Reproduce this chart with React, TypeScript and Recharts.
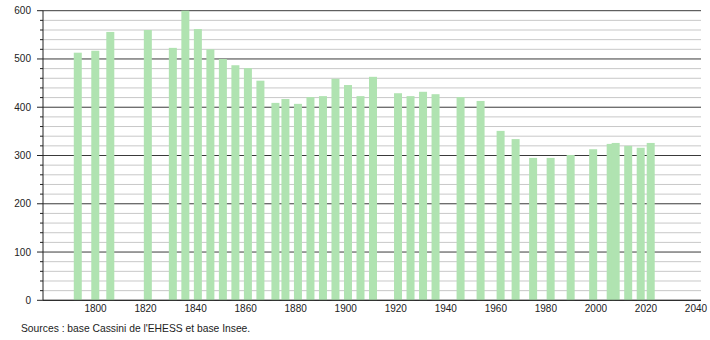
import React from 'react';
import { BarChart, Bar, XAxis, YAxis, CartesianGrid } from 'recharts';

const years = [
  1793, 1800, 1806, 1821, 1831, 1836, 1841, 1846, 1851, 1856,
  1861, 1866, 1872, 1876, 1881, 1886, 1891, 1896, 1901, 1906,
  1911, 1921, 1926, 1931, 1936, 1946, 1954, 1962, 1968, 1975,
  1982, 1990, 1999, 2006, 2008, 2013, 2018, 2022,
];
const population = [
  513, 517, 556, 560, 523, 600, 562, 520, 500, 487,
  481, 455, 409, 417, 407, 421, 423, 459, 446, 423,
  463, 429, 423, 432, 427, 421, 413, 351, 334, 295,
  295, 301, 313, 324, 326, 320, 316, 326,
];
const xTicks = [1800, 1820, 1840, 1860, 1880, 1900, 1920, 1940, 1960, 1980, 2000, 2020, 2040];
const majorTicks = [0, 100, 200, 300, 400, 500, 600];
const minorTicks = [
  20, 40, 60, 80, 120, 140, 160, 180, 220, 240, 260, 280,
  320, 340, 360, 380, 420, 440, 460, 480, 520, 540, 560, 580,
];
const yTicks = [...majorTicks, ...minorTicks].sort((a, b) => a - b);
const sourceText = "Sources : base Cassini de l'EHESS et base Insee.";

const data = years.map((year, i) => ({ year, population: population[i] }));

const FONT = '"Liberation Sans", Arial, sans-serif';

const YTick = (props: any) => {
  const { x, y, payload } = props;
  const v = payload.value;
  const major = majorTicks.includes(v);
  return (
    <g>
      <line x1={x - (major ? 6 : 3)} x2={x} y1={y} y2={y} stroke="#222" strokeWidth={1} />
      {major && (
        <text x={x - 12} y={y} dy="0.35em" textAnchor="end" fontSize={10} fill="#222" fontFamily={FONT}>
          {v}
        </text>
      )}
    </g>
  );
};

const BarShape = (props: any) => {
  const { x, y, width, height, fill } = props;
  if (height == null || isNaN(height)) return null;
  const cx = x + width / 2;
  return <rect x={cx - 4} y={y} width={8} height={height} fill={fill} />;
};

export default function App() {
  return (
    <div style={{ position: 'absolute', left: 0, top: 0, width: 710, height: 340, background: '#fff' }}>
      <BarChart
        width={710}
        height={340}
        data={data}
        margin={{ top: 10.7, right: 9, bottom: 19.7, left: 0 }}
      >
        <CartesianGrid vertical={false} horizontalValues={minorTicks} stroke="#c8c8c8" strokeWidth={1} />
        <CartesianGrid vertical={false} horizontalValues={majorTicks} stroke="#3a3a3a" strokeWidth={1} />
        <XAxis
          dataKey="year"
          type="number"
          domain={[1779, 2042]}
          ticks={xTicks}
          allowDataOverflow
          tickLine={false}
          tickSize={0}
          tickMargin={5}
          height={20}
          axisLine={{ stroke: '#222' }}
          tick={{ fontSize: 10, fill: '#222', fontFamily: FONT }}
          interval={0}
        />
        <YAxis
          type="number"
          domain={[0, 600]}
          ticks={yTicks}
          width={43}
          tickLine={false}
          tickSize={0}
          tickMargin={0}
          axisLine={{ stroke: '#222' }}
          tick={<YTick />}
          interval={0}
        />
        <Bar dataKey="population" fill="#b0e3b1" barSize={8} shape={<BarShape />} isAnimationActive={false} />
      </BarChart>
      <div
        style={{
          position: 'absolute',
          left: 21,
          top: 323,
          fontSize: 10.3,
          lineHeight: '12px',
          fontFamily: FONT,
          color: '#222',
          whiteSpace: 'nowrap',
        }}
      >
        {sourceText}
      </div>
    </div>
  );
}
